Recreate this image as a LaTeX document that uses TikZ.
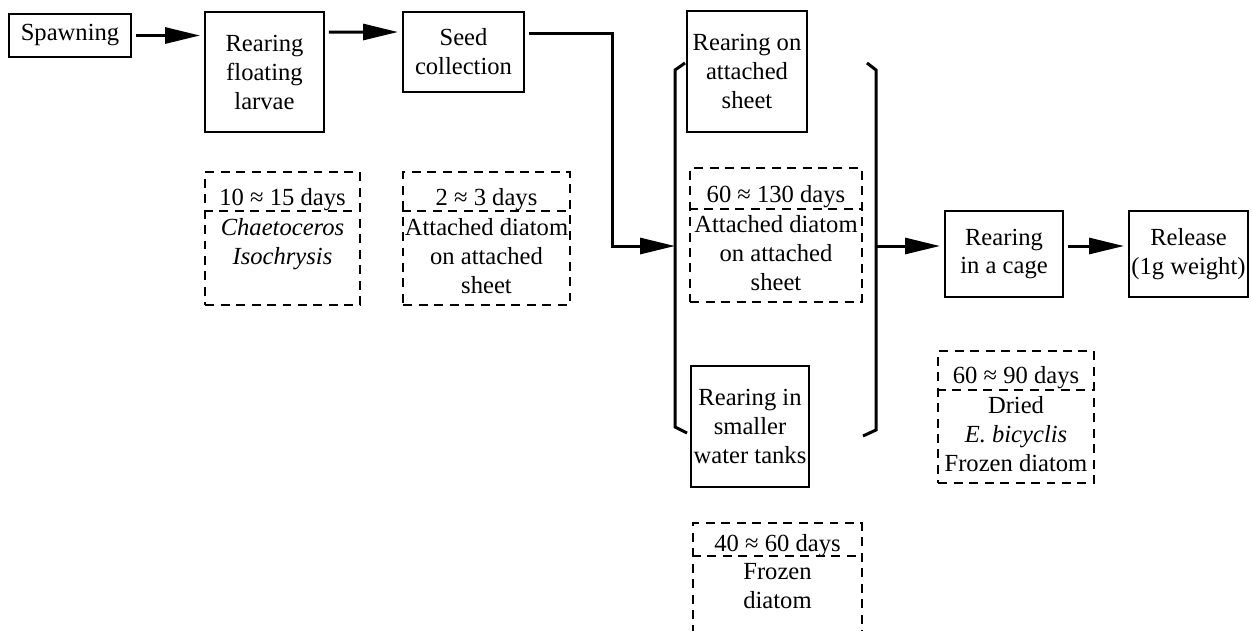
\documentclass[tikz,border=0pt]{standalone}
\usepackage{fontspec}
\setmainfont{Liberation Serif}
\usetikzlibrary{arrows.meta}
\tikzstyle{stage}=[rectangle, draw, line width=0.05cm, minimum width=2.38cm, outer sep=0.1cm]
\tikzstyle{daybox}=[draw, line width=0.05cm, dash pattern=on 0.18cm off 0.13cm]
\tikzstyle{flow}=[line width=0.06cm, -{Triangle[length=0.7cm,width=0.32cm]}]
\tikzstyle{bracket}=[line width=0.06cm]
\newcommand{\stage}{\node[stage]}
\newcommand{\daybox}{\node[daybox]}

\begin{document}
\begin{tikzpicture}[x=0.02cm, y=-0.02cm, every node/.style={font=\fontsize{14}{16.5}\selectfont, align=center, inner sep=0pt}]
\useasboundingbox (0,0) rectangle (1252,630);
\clip (0,0) rectangle (1252,630);
% stages
\stage (spawn) at (70,35.5)[minimum width=2.44cm, minimum height=0.86cm]{Spawning};
\stage (larvae) at (264.5,72)[minimum height=2.4cm]{Rearing\\floating\\larvae};
\stage (seed) at (463.5,52)[minimum width=2.42cm, minimum height=1.6cm]{Seed\\collection};
\stage (sheet) at (747,71.5)[minimum width=2.4cm, minimum height=2.42cm]{Rearing on\\attached\\sheet};
\stage (tank) at (750,426.5)[minimum width=2.36cm, minimum height=2.42cm]{Rearing in\\smaller\\water tanks};
\stage (cage) at (1004,254)[minimum width=2.36cm, minimum height=1.72cm]{Rearing\\in a cage};
\stage (release) at (1188.5,254)[minimum height=1.72cm]{Release\\(1g weight)};
% days and food
\daybox (d1) at (282.5,238.5)[minimum width=3.1cm, minimum height=2.66cm]{};
\node (d1top) at (282.5,205)[anchor=base]{10 ≈ 15 days};
\node (d1txt) at (282.5,218)[anchor=north]{\textit{Chaetoceros}\\\textit{Isochrysis}};
\draw[daybox] ([yshift=-0.8cm]d1.north west) -- ([yshift=-0.8cm]d1.north east);
\daybox (d2) at (486.5,238.5)[minimum width=3.34cm, minimum height=2.66cm]{};
\node (d2top) at (486.5,205)[anchor=base]{2 ≈ 3 days};
\node (d2txt) at (486.5,218)[anchor=north]{Attached diatom\\on attached\\sheet};
\draw[daybox] ([yshift=-0.8cm]d2.north west) -- ([yshift=-0.8cm]d2.north east);
\daybox (d3) at (776,235)[minimum width=3.44cm, minimum height=2.68cm]{};
\node (d3top) at (776,202)[anchor=base]{60 ≈ 130 days};
\node (d3txt) at (776,215)[anchor=north]{Attached diatom\\on attached\\sheet};
\draw[daybox] ([yshift=-0.84cm]d3.north west) -- ([yshift=-0.84cm]d3.north east);
\daybox (d4) at (1016,417)[minimum width=3.12cm, minimum height=2.64cm]{};
\node (d4top) at (1016,383)[anchor=base]{60 ≈ 90 days};
\node (d4txt) at (1016,396)[anchor=north]{Dried\\\textit{E. bicyclis}\\Frozen diatom};
\draw[daybox] ([yshift=-0.8cm]d4.north west) -- ([yshift=-0.8cm]d4.north east);
\daybox (d5) at (777.5,589.5)[minimum width=3.38cm, minimum height=2.66cm]{};
\node (d5top) at (777.5,551)[anchor=base]{40 ≈ 60 days};
\node (d5txt) at (777.5,563)[anchor=north]{Frozen\\diatom};
\draw[daybox] ([yshift=-0.68cm]d5.north west) -- ([yshift=-0.68cm]d5.north east);
% brackets and arrows
\coordinate (in) at (675,246);
\coordinate (out) at (876,246);
\draw[bracket] (685,63) -- (675,70) -- (in) -- (675,427) -- (687,433);
\draw[bracket] (867,63) -- (876,70) -- (out) -- (876,430) -- (863,436);
\draw[flow] (spawn) -- (spawn -| larvae.west);
\draw[flow] ([yshift=-0.5cm]larvae.north east) -- ([yshift=-0.5cm]seed.north west);
\draw[flow] ([yshift=-0.52cm]seed.north east) -- ++(84,0) |- (in);
\draw[flow] (out) -- (out -| cage.west);
\draw[flow] (out -| cage.east) -- (out -| release.west);
\end{tikzpicture}
\end{document}
